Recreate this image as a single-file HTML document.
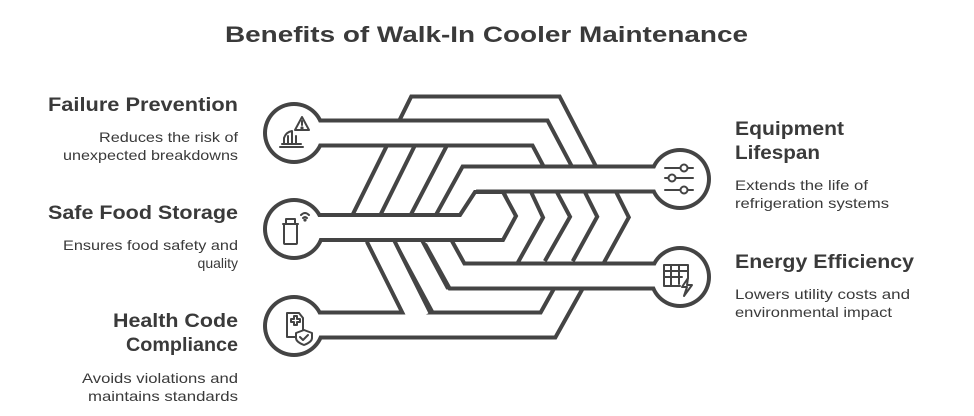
<!DOCTYPE html>
<html><head><meta charset="utf-8"><style>
html,body{margin:0;padding:0;background:#fff;}
svg{display:block;}
text{font-family:"Liberation Sans",sans-serif;fill:#3a3a3a;}
.h{font-weight:bold;font-size:19px;}
.b{font-size:14px;}
</style></head><body>
<svg width="974" height="416" viewBox="0 0 974 416" xmlns="http://www.w3.org/2000/svg">
<rect width="974" height="416" fill="#fff"/>
<text x="225" y="42" font-size="22" font-weight="bold" textLength="523" lengthAdjust="spacingAndGlyphs">Benefits of Walk-In Cooler Maintenance</text>

<g fill="#444">
<circle cx="294" cy="133" r="31"/><circle cx="294" cy="229" r="31"/><circle cx="294" cy="326" r="31"/>
<circle cx="680" cy="179" r="31"/><circle cx="680" cy="277" r="31"/>
</g>
<g fill="none" stroke-linejoin="miter" stroke-linecap="butt">
<path d="M360,228 L419,109 L552,109 L590,182" stroke="#444" stroke-width="29"/>
<path d="M360,228 L419,109 L552,109 L590,182" stroke="#fff" stroke-width="21"/>
<path d="M418,228 L455,157 L532,157 L545,182" stroke="#444" stroke-width="29"/>
<path d="M418,228 L455,157 L532,157 L545,182" stroke="#fff" stroke-width="21"/>
<path d="M293,133 L540,133 L566,182" stroke="#444" stroke-width="29"/>
<path d="M293,133 L540,133 L566,182" stroke="#fff" stroke-width="21"/>
<path d="M541,185 L558,217 L530,268" stroke="#444" stroke-width="32"/>
<path d="M541,185 L558,217 L530,268" stroke="#fff" stroke-width="24"/>
<path d="M569,185 L586,217 L557,268" stroke="#444" stroke-width="32"/>
<path d="M569,185 L586,217 L557,268" stroke="#fff" stroke-width="24"/>
<path d="M597,185 L613,217 L585,268" stroke="#444" stroke-width="32"/>
<path d="M597,185 L613,217 L585,268" stroke="#fff" stroke-width="24"/>
<path d="M514,185 L529,217 L510,251 L455,251 L445,235" stroke="#444" stroke-width="29"/>
<path d="M514,185 L529,217 L510,251 L455,251 L445,235" stroke="#fff" stroke-width="21"/>
<path d="M405,235 L440,300 L548,300" stroke="#444" stroke-width="29"/>
<path d="M405,235 L440,300 L548,300" stroke="#fff" stroke-width="21"/>
<path d="M293,325 L548,325 L572,282" stroke="#444" stroke-width="29"/>
<path d="M378,236 L419,318" stroke="#444" stroke-width="29"/>
<path d="M293,325 L548,325 L572,282" stroke="#fff" stroke-width="21"/>
<path d="M378,236 L419,318" stroke="#fff" stroke-width="21"/>
<path d="M680,179 L470,179 L443,228" stroke="#444" stroke-width="29"/>
<path d="M680,179 L470,179 L443,228" stroke="#fff" stroke-width="21"/>
<path d="M680,276 L457,276 L436,238" stroke="#444" stroke-width="29"/>
<path d="M680,276 L457,276 L436,238" stroke="#fff" stroke-width="21"/>
</g>
<polygon points="285,215 460,215 475,192 503,192 516,216 503,240 285,240" fill="#fff" stroke="#444" stroke-width="4" stroke-linejoin="miter"/>
<g fill="#fff">
<circle cx="294" cy="133" r="27"/><circle cx="294" cy="229" r="27"/><circle cx="294" cy="326" r="27"/>
<circle cx="680" cy="179" r="27"/><circle cx="680" cy="277" r="27"/>
</g>

<g fill="none" stroke="#444" stroke-width="2" stroke-linejoin="round" stroke-linecap="round">
<path d="M302,117 L309,130 L295,130 Z"/><path d="M302,121 V125"/><circle cx="302" cy="128" r="0.6" fill="#444"/>
<path d="M280,147 H303 M282,144 H301 M284,144 V138 Q286,132 292,131 M292,131 V144 M288,136 V144 M296,136 V144"/>
<rect x="284" y="224" width="13" height="20" rx="1"/><path d="M283,224 H298 M286,224 V219 H295 V224"/>
<path d="M301,215 Q305,211 309,215 M303,218 Q305,216 307,218"/><circle cx="305" cy="220" r="0.6" fill="#444"/>
<path d="M287,313 H299 L303,318 V337 H287 Z"/><path d="M291,319 H294 V316 H297 V319 H300 V322 H297 V325 H294 V322 H291 Z"/>
<path d="M304,330 L312,333 V338 Q312,342 304,345 Q296,342 296,338 V333 Z" fill="#fff"/><path d="M300,337 L303,340 L308,335"/>
<path d="M665,168 H693 M665,178 H693 M665,190 H693"/>
<circle cx="684" cy="168" r="3.5" fill="#fff"/><circle cx="672" cy="178" r="3.5" fill="#fff"/><circle cx="684" cy="190" r="3.5" fill="#fff"/>
<path d="M664,265 H688 V278 M664,265 V286 H680 M664,271 H688 M664,277 H682 M671,265 V286 M679,265 V284"/>
<path d="M688,278 L682,287 H687 L684,296 L692,285 H687 Z" fill="#fff"/>
</g>

<text class="h" x="48" y="111" textLength="190" lengthAdjust="spacingAndGlyphs">Failure Prevention</text>
<text class="b" x="99" y="142" textLength="139" lengthAdjust="spacingAndGlyphs">Reduces the risk of</text>
<text class="b" x="63" y="160" textLength="175" lengthAdjust="spacingAndGlyphs">unexpected breakdowns</text>
<text class="h" x="48" y="219" textLength="190" lengthAdjust="spacingAndGlyphs">Safe Food Storage</text>
<text class="b" x="63" y="250" textLength="175" lengthAdjust="spacingAndGlyphs">Ensures food safety and</text>
<text class="b" x="238" y="268" text-anchor="end">quality</text>
<text class="h" x="113" y="327" textLength="125" lengthAdjust="spacingAndGlyphs">Health Code</text>
<text class="h" x="126" y="351" textLength="112" lengthAdjust="spacingAndGlyphs">Compliance</text>
<text class="b" x="82" y="383" textLength="156" lengthAdjust="spacingAndGlyphs">Avoids violations and</text>
<text class="b" x="88" y="401" textLength="150" lengthAdjust="spacingAndGlyphs">maintains standards</text>
<text class="h" x="735" y="135" textLength="109" lengthAdjust="spacingAndGlyphs">Equipment</text>
<text class="h" x="735" y="159" textLength="85" lengthAdjust="spacingAndGlyphs">Lifespan</text>
<text class="b" x="735" y="190" textLength="133" lengthAdjust="spacingAndGlyphs">Extends the life of</text>
<text class="b" x="735" y="208" textLength="154" lengthAdjust="spacingAndGlyphs">refrigeration systems</text>
<text class="h" x="735" y="268" textLength="179" lengthAdjust="spacingAndGlyphs">Energy Efficiency</text>
<text class="b" x="735" y="299" textLength="175" lengthAdjust="spacingAndGlyphs">Lowers utility costs and</text>
<text class="b" x="735" y="317" textLength="157" lengthAdjust="spacingAndGlyphs">environmental impact</text>
</svg>
</body></html>
